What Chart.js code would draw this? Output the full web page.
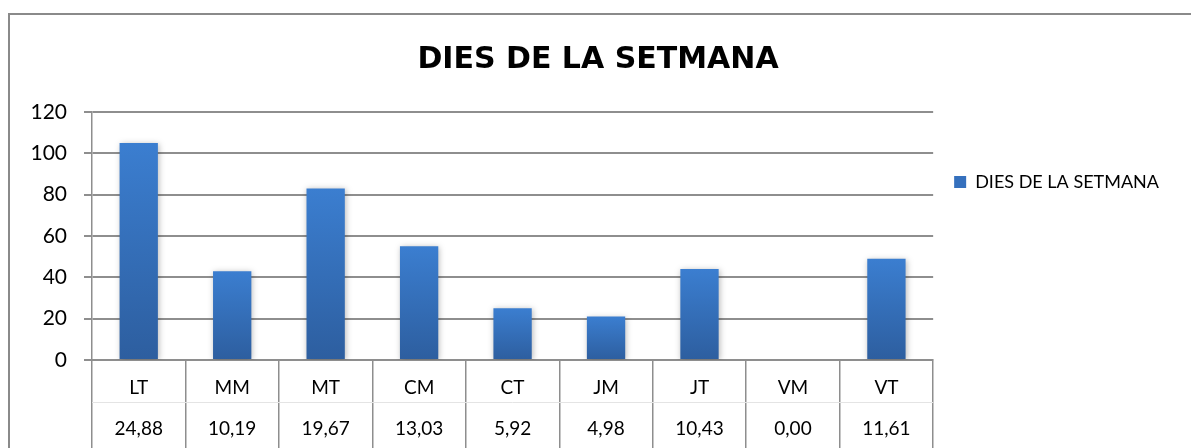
<!DOCTYPE html>
<html>
<head>
<meta charset="utf-8">
<script src="https://cdn.jsdelivr.net/npm/chart.js@4"></script>
<style>
    html, body { margin: 0; padding: 0; background: #fff; }
</style>
</head>
<body>
<canvas id="diesChart" width="1191" height="448"></canvas>
<script>
// Dades del gràfic
const dies = ['LT', 'MM', 'MT', 'CM', 'CT', 'JM', 'JT', 'VM', 'VT'];
const valors = [105, 43, 83, 55, 25, 21, 44, 0, 49];
const taula = ['24,88', '10,19', '19,67', '13,03', '5,92', '4,98', '10,43', '0,00', '11,61'];
const yTicks = [0, 20, 40, 60, 80, 100, 120];
const titol = 'DIES DE LA SETMANA';

const grisLinia = '#8e8e8e';
const fontText = 'Lato, "Open Sans", sans-serif';

// Marc exterior del gràfic
const marc = {
    id: 'marc',
    beforeDraw(chart) {
        const ctx = chart.ctx;
        ctx.save();
        ctx.strokeStyle = '#8a8a8a';
        ctx.lineWidth = 2;
        ctx.beginPath();
        ctx.moveTo(9, 448);
        ctx.lineTo(9, 14);
        ctx.lineTo(1191, 14);
        ctx.stroke();
        ctx.restore();
    }
};

// Ombra suau de les barres
const ombra = {
    id: 'ombra',
    beforeDatasetsDraw(chart) {
        const ctx = chart.ctx;
        ctx.save();
        ctx.shadowColor = 'rgba(0, 0, 0, 0.28)';
        ctx.shadowBlur = 6;
        ctx.shadowOffsetX = 1;
        ctx.shadowOffsetY = 1;
    },
    afterDatasetsDraw(chart) {
        chart.ctx.restore();
    }
};

// Taula de dades sota l'eix X
const taulaDades = {
    id: 'taulaDades',
    afterDraw(chart) {
        const ctx = chart.ctx;
        const x = chart.scales.x;
        const area = chart.chartArea;
        ctx.save();
        ctx.strokeStyle = '#e4e4e4';
        ctx.lineWidth = 1;
        ctx.beginPath();
        ctx.moveTo(area.left, 402.5);
        ctx.lineTo(area.right, 402.5);
        ctx.stroke();

        ctx.fillStyle = '#000';
        ctx.font = '19px ' + fontText;
        ctx.textAlign = 'center';
        ctx.textBaseline = 'middle';
        dies.forEach((d, i) => {
            const px = x.getPixelForValue(i);
            ctx.fillText(d, px, area.bottom + 28);
            ctx.fillText(taula[i], px, area.bottom + 69);
        });
        ctx.restore();
    }
};

const ctx = document.getElementById('diesChart').getContext('2d');
const diesChart = new Chart(ctx, {
    type: 'bar',
    data: {
        labels: dies,
        datasets: [{
            label: titol,
            data: valors,
            backgroundColor: function(context) {
                const chart = context.chart;
                const area = chart.chartArea;
                if (!area || context.raw === undefined) return '#3570bd';
                const top = chart.scales.y.getPixelForValue(context.raw);
                const bottom = chart.scales.y.getPixelForValue(0);
                if (bottom - top < 1) return '#3570bd';
                const g = chart.ctx.createLinearGradient(0, top, 0, bottom);
                g.addColorStop(0, '#3b7ed0');
                g.addColorStop(1, '#2d5e9f');
                return g;
            },
            borderWidth: 0,
            barPercentage: 0.41,
            categoryPercentage: 1
        }]
    },
    options: {
        responsive: false,
        animation: false,
        devicePixelRatio: 1,
        layout: {
            padding: { left: 27, right: 22, top: 13, bottom: 0 }
        },
        scales: {
            x: {
                offset: true,
                grid: {
                    display: true,
                    offset: true,
                    drawOnChartArea: false,
                    drawTicks: true,
                    tickLength: 88,
                    color: grisLinia,
                    lineWidth: 1.5
                },
                border: { display: true, color: grisLinia, width: 2 },
                ticks: { display: false }
            },
            y: {
                min: yTicks[0],
                max: yTicks[yTicks.length - 1],
                ticks: {
                    stepSize: yTicks[1] - yTicks[0],
                    padding: 17,
                    color: '#000',
                    font: { family: fontText, size: 21 }
                },
                grid: {
                    color: grisLinia,
                    lineWidth: 2,
                    tickLength: 8
                },
                border: { display: true, color: grisLinia, width: 1.5 },
                afterFit(scale) {
                    scale.width = 65;
                }
            }
        },
        plugins: {
            title: {
                display: true,
                text: titol,
                color: '#000',
                font: { family: '"Comic Sans MS", "DejaVu Sans", sans-serif', size: 30, weight: 'bold' },
                padding: { top: 29, bottom: 34 }
            },
            legend: {
                position: 'right',
                align: 'start',
                title: {
                    display: true,
                    text: ' ',
                    font: { size: 10 },
                    padding: { top: 0, bottom: 127 }
                },
                labels: {
                    boxWidth: 12,
                    boxHeight: 12,
                    padding: 21,
                    color: '#000',
                    font: { family: fontText, size: 18 },
                    generateLabels(chart) {
                        const items = Chart.defaults.plugins.legend.labels.generateLabels(chart);
                        items.forEach(it => {
                            it.fillStyle = '#3570bd';
                            it.strokeStyle = '#3570bd';
                            it.lineWidth = 0;
                        });
                        return items;
                    }
                }
            },
            tooltip: { enabled: false }
        }
    },
    plugins: [marc, ombra, taulaDades]
});
</script>
</body>
</html>
